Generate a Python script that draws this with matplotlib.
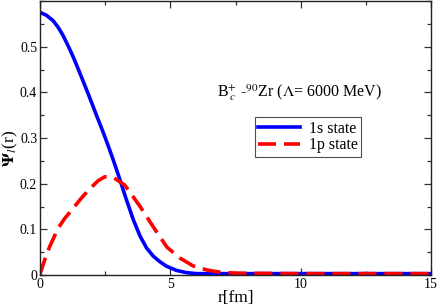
import matplotlib
matplotlib.use("Agg")
import matplotlib.pyplot as plt
from matplotlib.ticker import MultipleLocator, FuncFormatter

# Data
r_1s = [0, 0.24, 0.5, 0.69, 0.88, 1.07, 1.27, 1.46, 1.65, 1.84, 2.03, 2.22,
        2.42, 2.61, 2.81, 3.07, 3.32, 3.58, 3.84, 4.09, 4.35, 4.6, 4.86, 5.24,
        5.63, 6.01, 6.5, 7.0, 8.0, 10.0, 12.0, 15.0]
psi_1s = [0.575, 0.569, 0.557, 0.543, 0.525, 0.503, 0.478, 0.452, 0.425,
          0.398, 0.370, 0.342, 0.313, 0.284, 0.252, 0.208, 0.164, 0.121, 0.085,
          0.059, 0.041, 0.029, 0.019, 0.010, 0.005, 0.003, 0.003, 0.003, 0.003,
          0.003, 0.003, 0.003]

r_1p = [0, 0.03, 0.18, 0.37, 0.69, 0.95, 1.27, 1.58, 1.9, 2.22, 2.48, 2.8,
        3.25, 3.84, 4.35, 4.87, 5.37, 5.87, 6.4, 6.8, 7.5, 10.0, 15.0]
psi_1p = [0.0, 0.007, 0.033, 0.062, 0.102, 0.124, 0.146, 0.168, 0.188, 0.206,
          0.215, 0.214, 0.197, 0.150, 0.105, 0.061, 0.037, 0.020, 0.011, 0.007,
          0.004, 0.003, 0.003]

labels = ["1s state", "1p state"]
x_ticks = [0, 5, 10, 15]
y_ticks = [0, 0.1, 0.2, 0.3, 0.4, 0.5]

plt.rcParams['font.family'] = ['Liberation Serif', 'DejaVu Serif']
plt.rcParams['mathtext.fontset'] = 'stix'

fig = plt.figure(figsize=(4.37, 3.06), dpi=100)
ax = fig.add_axes([40/437, 31/306, 391/437, 274/306])

ax.plot(r_1s, psi_1s, color='#0000ff', lw=2.6, label=labels[0])
ax.plot(r_1p, psi_1p, color='#ff0000', lw=2.6, dashes=(5, 2.2), label=labels[1])

ax.set_xlim(0, 15)
ax.set_ylim(0, 0.6)
ax.set_xticks(x_ticks)
ax.set_yticks(y_ticks)
ax.xaxis.set_minor_locator(MultipleLocator(2.5))
ax.yaxis.set_minor_locator(MultipleLocator(0.05))
ax.yaxis.set_major_formatter(FuncFormatter(lambda v, p: "0" if v == 0 else f"{v:.1f}"))
ax.tick_params(which='both', direction='in', top=True, right=True,
               labelsize=10, width=0.9, color='#333333', pad=2)
ax.tick_params(which='major', length=5)
ax.tick_params(which='minor', length=3)
for s in ax.spines.values():
    s.set_linewidth(1.0)
    s.set_color('#222222')

ax.set_xlabel("r[fm]", fontsize=12.5)
ax.xaxis.set_label_coords(0.5, -0.053)
ax.set_ylabel(r"$\mathbf{\Psi}_{l}$(r)", fontsize=12.5)
ax.yaxis.set_label_coords(-0.05, 0.46)

ax.text(0.452, 0.665, r"B$^{+}_{\,c}$ -$^{90}$Zr ($\Lambda$= 6000 MeV)",
        transform=ax.transAxes, fontsize=11.5, ha='left', va='center')

leg = ax.legend(loc='upper left', bbox_to_anchor=(0.55, 0.575), fontsize=11.5,
                frameon=True, fancybox=False, handlelength=2.6,
                borderpad=0.2, labelspacing=0.05, handletextpad=0.6,
                borderaxespad=0)
leg.get_frame().set_edgecolor('#222222')
leg.get_frame().set_linewidth(0.8)

fig.savefig("out.png", dpi=100)
